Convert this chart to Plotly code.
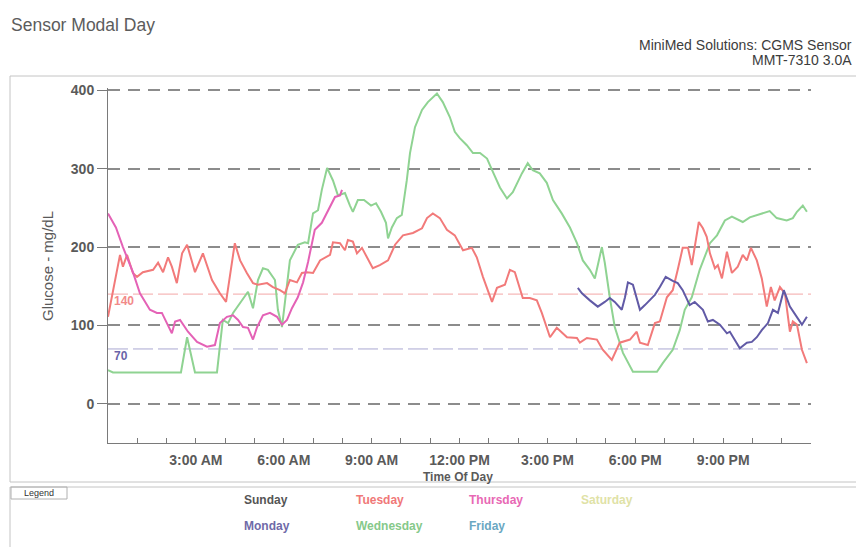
import plotly.graph_objects as go

# ---- glucose readings (hour of day, mg/dL) ----
tuesday_hours = [0.0, 0.41, 0.51, 0.65, 0.85, 0.99, 1.19, 1.54, 1.71, 1.88, 2.05, 2.18, 2.35, 2.53, 2.70,
                 2.97, 3.24, 3.55, 3.82, 4.03, 4.33, 4.51, 4.74, 4.95, 5.12, 5.43, 5.63, 5.87, 6.04, 6.21,
                 6.45, 6.62, 6.79, 7.00, 7.24, 7.58, 7.68, 7.92, 8.09, 8.19, 8.36, 8.50, 8.67, 8.84, 9.04,
                 9.28, 9.56, 9.80, 10.07, 10.41, 10.72, 10.89, 11.09, 11.33, 11.57, 11.84, 12.12, 12.42,
                 12.59, 12.80, 13.11, 13.28, 13.55, 13.72, 13.89, 14.16, 14.40, 14.64, 14.81, 15.09, 15.32,
                 15.67, 16.01, 16.11, 16.35, 16.69, 16.89, 17.20, 17.37, 17.47, 17.82, 18.05, 18.16, 18.43,
                 18.67, 18.84, 19.08, 19.28, 19.45, 19.62, 19.80, 19.93, 20.03, 20.17, 20.31, 20.44, 20.55,
                 20.72, 20.82, 20.96, 21.13, 21.30, 21.50, 21.67, 21.81, 21.95, 22.15, 22.32, 22.49, 22.63,
                 22.76, 22.94, 23.11, 23.28, 23.38, 23.52, 23.69, 23.86]
tuesday_values = [111, 190, 175, 190, 167, 162, 168, 171, 180, 168, 187, 175, 154, 192, 203,
                  168, 192, 158, 141, 130, 205, 183, 167, 154, 152, 154, 149, 145, 141, 158,
                  155, 167, 168, 167, 183, 190, 206, 205, 196, 209, 207, 192, 199, 187, 173,
                  177, 183, 203, 215, 218, 224, 237, 243, 237, 222, 215, 196, 199,
                  187, 162, 130, 148, 152, 171, 168, 135, 135, 132, 116, 85, 97,
                  85, 84, 78, 84, 82, 69, 56, 69, 78, 82, 92, 78, 75,
                  103, 105, 136, 145, 171, 199, 199, 177, 200, 232, 224, 213, 192,
                  173, 177, 160, 194, 167, 175, 190, 183, 199, 183, 160, 124, 149,
                  132, 149, 141, 92, 105, 101, 69, 52]

thursday_hours = [0.0, 0.27, 0.51, 0.85, 1.09, 1.43, 1.67, 1.84, 2.01, 2.18, 2.29, 2.46, 2.73, 3.04,
                  3.38, 3.65, 3.82, 4.06, 4.27, 4.44, 4.61, 4.78, 4.95, 5.09, 5.29, 5.53, 5.77, 5.94,
                  6.11, 6.28, 6.48, 6.66, 6.83, 7.06, 7.30, 7.51, 7.75, 7.92, 7.99]
thursday_values = [243, 225, 200, 168, 141, 120, 116, 116, 103, 90, 105, 107, 92, 79,
                   73, 75, 103, 111, 113, 107, 98, 97, 82, 98, 113, 116, 111, 101,
                   107, 122, 136, 155, 181, 222, 231, 247, 264, 266, 273]

wednesday_hours = [0.0, 0.17, 2.49, 2.70, 2.97, 3.72, 3.92, 4.10, 4.27, 4.51, 4.78, 4.95, 5.12, 5.29,
                   5.46, 5.70, 5.80, 5.94, 6.07, 6.21, 6.48, 6.72, 6.83, 7.00, 7.17, 7.30, 7.48, 7.68,
                   7.85, 8.09, 8.26, 8.36, 8.53, 8.74, 8.98, 9.15, 9.32, 9.49, 9.56, 9.69, 9.86, 10.03,
                   10.20, 10.31, 10.48, 10.72, 10.92, 11.23, 11.43, 11.67, 11.84, 12.01, 12.25, 12.46,
                   12.70, 12.94, 13.14, 13.38, 13.62, 13.82, 14.13, 14.33, 14.50, 14.74, 14.98, 15.19,
                   15.49, 15.77, 16.01, 16.21, 16.45, 16.62, 16.86, 16.96, 17.13, 17.30, 17.58, 17.92,
                   18.74, 18.94, 19.28, 19.52, 19.69, 19.93, 20.20, 20.55, 20.79, 21.06, 21.30, 21.67,
                   21.91, 22.15, 22.59, 22.83, 23.17, 23.38, 23.52, 23.72, 23.86]
wednesday_values = [43, 40, 40, 85, 40, 40, 107, 103, 116, 129, 143, 122, 158, 173,
                    171, 158, 120, 98, 141, 183, 203, 206, 205, 243, 247, 273, 301, 285,
                    266, 269, 253, 245, 260, 260, 253, 256, 245, 231, 211, 225, 237, 241,
                    285, 320, 353, 375, 385, 396, 385, 366, 347, 339, 330, 320,
                    320, 313, 296, 276, 262, 270, 294, 307, 298, 294, 282, 260,
                    243, 225, 205, 183, 171, 160, 200, 180, 136, 98, 65, 41,
                    41, 52, 69, 94, 120, 136, 171, 205, 215, 234, 239, 232,
                    238, 241, 246, 237, 234, 237, 245, 253, 245]

monday_hours = [16.04, 16.18, 16.45, 16.72, 16.96, 17.13, 17.30, 17.54, 17.65, 17.75, 17.92, 18.16,
                18.33, 18.43, 18.57, 18.67, 18.84, 19.04, 19.28, 19.45, 19.62, 19.86, 20.03, 20.31,
                20.48, 20.65, 20.89, 21.13, 21.23, 21.57, 21.81, 21.98, 22.15, 22.32, 22.53, 22.70,
                22.87, 23.07, 23.28, 23.52, 23.69, 23.86]
monday_values = [148, 141, 132, 124, 130, 135, 130, 120, 136, 155, 152, 120,
                 126, 130, 135, 139, 149, 162, 157, 154, 145, 126, 130, 120,
                 105, 107, 101, 90, 92, 71, 78, 79, 85, 94, 103, 120,
                 116, 145, 124, 111, 101, 111]

# target band lines
high_limit = 140
low_limit = 70

y_ticks = [0, 100, 200, 300, 400]
x_ticks = [3, 6, 9, 12, 15, 18, 21]
x_ticktext = ["3:00 AM", "6:00 AM", "9:00 AM", "12:00 PM", "3:00 PM", "6:00 PM", "9:00 PM"]

legend_days = ["Sunday", "Tuesday", "Thursday", "Saturday", "Monday", "Wednesday", "Friday"]
legend_colors = ["#555555", "#f07878", "#e868b4", "#dfe2a6", "#6f6aa8", "#86c98a", "#6aa7c2"]

colors = {
    "Tuesday": "#f27a7a",
    "Thursday": "#e462b6",
    "Wednesday": "#8fd392",
    "Monday": "#615aa6",
}

# ---- page geometry (pixels) ----
FIG_W, FIG_H = 856, 547
PL, PR, PT, PB = 108, 811, 88, 443
PW, PH = PR - PL, PB - PT


def fx(p):
    return (p - PL) / PW


def fy(p):
    return (PB - p) / PH


FONT = "Liberation Sans, Arial, sans-serif"

fig = go.Figure()

series = [
    ("Wednesday", wednesday_hours, wednesday_values),
    ("Tuesday", tuesday_hours, tuesday_values),
    ("Thursday", thursday_hours, thursday_values),
    ("Monday", monday_hours, monday_values),
]
for name, hrs, vals in series:
    fig.add_trace(go.Scatter(
        x=hrs, y=vals, mode="lines", name=name,
        line=dict(color=colors[name], width=2),
        hoverinfo="skip",
    ))

shapes = [
    # target limits
    dict(type="line", xref="x", yref="y", x0=0, x1=24, y0=high_limit, y1=high_limit,
         line=dict(color="#f3a6a6", width=1, dash="20px,5px"), layer="below"),
    dict(type="line", xref="x", yref="y", x0=0, x1=24, y0=low_limit, y1=low_limit,
         line=dict(color="#a9a7d2", width=1, dash="20px,5px"), layer="below"),
    # chart frame
    dict(type="rect", xref="paper", yref="paper", x0=fx(10), x1=fx(858), y0=fy(482), y1=fy(76),
         line=dict(color="#c4c4c4", width=1)),
    # legend frame
    dict(type="rect", xref="paper", yref="paper", x0=fx(10), x1=fx(858), y0=fy(550), y1=fy(487),
         line=dict(color="#c4c4c4", width=1)),
    dict(type="rect", xref="paper", yref="paper", x0=fx(11), x1=fx(67), y0=fy(499), y1=fy(487),
         line=dict(color="#b0b0b0", width=1)),
]

annotations = [
    dict(text="Sensor Modal Day", x=fx(9), y=fy(25), xanchor="left", yanchor="middle",
         font=dict(family=FONT, size=17.5, color="#5c5c5c")),
    dict(text="MiniMed Solutions: CGMS Sensor", x=fx(854), y=fy(45), xanchor="right", yanchor="middle",
         font=dict(family=FONT, size=14, color="#3c3c3c")),
    dict(text="MMT-7310 3.0A", x=fx(854), y=fy(60), xanchor="right", yanchor="middle",
         font=dict(family=FONT, size=14, color="#3c3c3c")),
    dict(text="Glucose - mg/dL", x=fx(47), y=fy(266), textangle=-90, xanchor="center", yanchor="middle",
         font=dict(family=FONT, size=15, color="#5a5a5a")),
    dict(text="Time Of Day", x=fx(458), y=fy(477), xanchor="center", yanchor="middle",
         font=dict(family=FONT, size=12, color="#5a5a5a", weight="bold")),
    dict(text="140", x=0.0, xshift=4, y=high_limit, yref="y", yshift=-7, xanchor="left", yanchor="middle",
         font=dict(family=FONT, size=12, color="#f28a8a", weight="bold")),
    dict(text="70", x=0.0, xshift=4, y=low_limit, yref="y", yshift=-7, xanchor="left", yanchor="middle",
         font=dict(family=FONT, size=12, color="#6a64a8", weight="bold")),
    dict(text="Legend", x=fx(39), y=fy(493), xanchor="center", yanchor="middle",
         font=dict(family=FONT, size=9, color="#333333")),
]
for a in annotations:
    a.setdefault("xref", "paper")
    a.setdefault("yref", "paper")
    a["showarrow"] = False

# legend entries laid out in two rows
legend_x = [242, 354, 467, 579, 242, 354, 467]
legend_y = [500, 500, 500, 500, 526, 526, 526]
for day, col, lx, ly in zip(legend_days, legend_colors, legend_x, legend_y):
    annotations.append(dict(
        text=day, xref="paper", yref="paper", x=fx(lx), y=fy(ly),
        xanchor="left", yanchor="middle", showarrow=False,
        font=dict(family=FONT, size=12, color=col, weight="bold"),
    ))

fig.update_layout(
    width=FIG_W, height=FIG_H, autosize=False,
    margin=dict(l=PL, r=FIG_W - PR, t=PT, b=FIG_H - PB, pad=0),
    paper_bgcolor="white", plot_bgcolor="white",
    showlegend=False,
    shapes=shapes,
    annotations=annotations,
    xaxis=dict(
        range=[0, 24], showgrid=False, zeroline=False,
        showline=True, linecolor="#7a7a7a", linewidth=1,
        tickmode="array", tickvals=x_ticks, ticktext=x_ticktext,
        ticks="inside", ticklen=5, tickcolor="#7a7a7a",
        minor=dict(tickmode="array", tickvals=list(range(1, 24)), ticks="inside",
                   ticklen=5, tickcolor="#7a7a7a"),
        tickfont=dict(family=FONT, size=14, color="#5a5a5a", weight="bold"),
        ticklabelstandoff=4,
    ),
    yaxis=dict(
        range=[-50, 403], zeroline=False,
        showline=True, linecolor="#7a7a7a", linewidth=1,
        tickmode="array", tickvals=y_ticks,
        ticks="outside", ticklen=10, tickcolor="#7a7a7a",
        showgrid=True, gridcolor="#8c8c8c", gridwidth=1.5, griddash="12px,8px",
        tickfont=dict(family=FONT, size=14, color="#5a5a5a", weight="bold"),
    ),
)

fig.write_html("out.html")
